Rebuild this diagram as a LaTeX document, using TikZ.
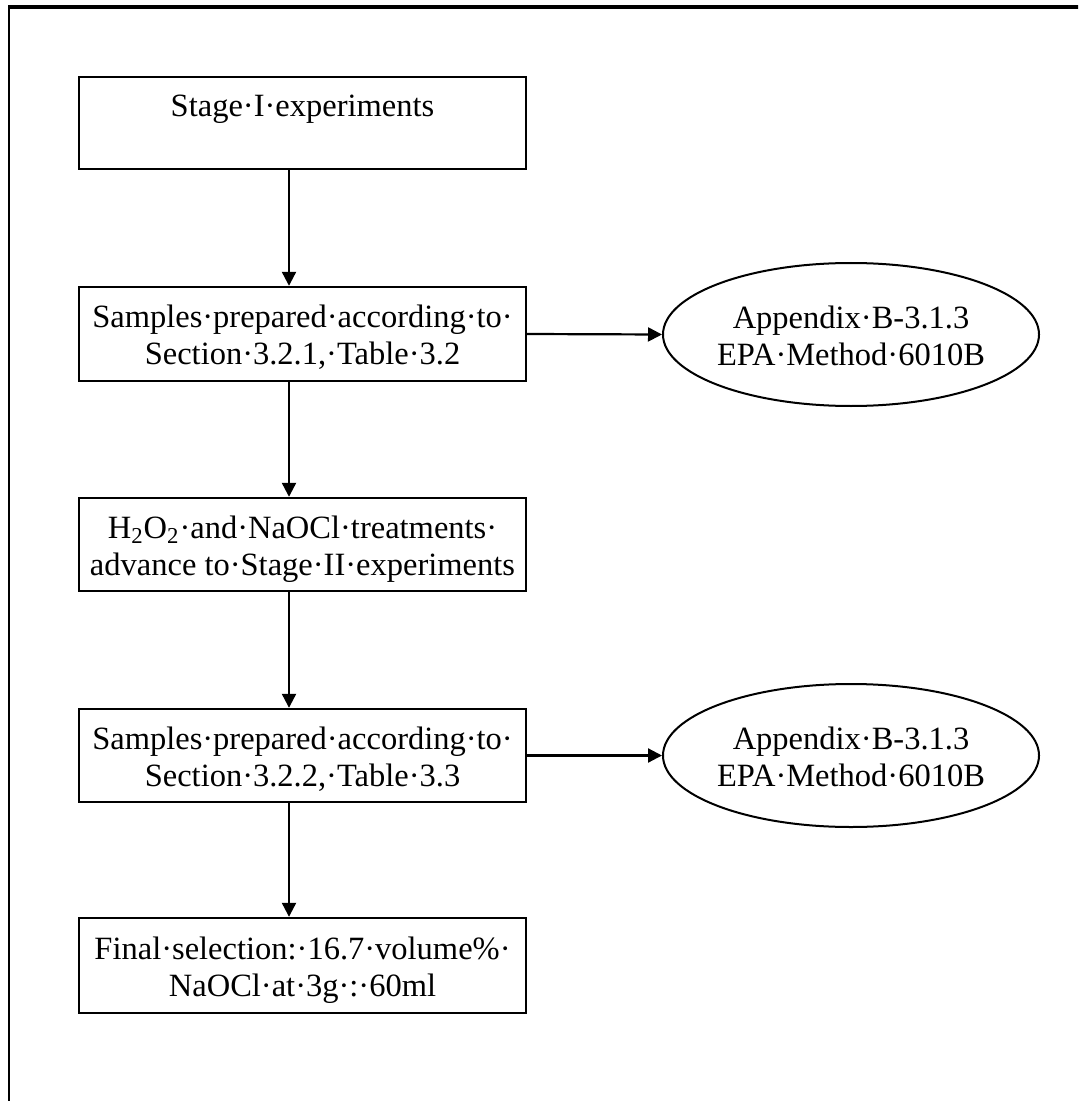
\documentclass[tikz,border=0pt]{standalone}
\usepackage{fontspec}
\setmainfont{Liberation Serif}
\usetikzlibrary{arrows.meta,shapes.geometric}

% a strut that is taller than usual, so the text block sits a little lower
\newcommand\firstline{\rule{0pt}{\dimexpr\ht\strutbox+5pt\relax}}

\tikzset{
  flowbox/.style={draw, line width=1.2pt, rectangle, inner sep=0pt,
    minimum width=223.5pt, align=center,
    font=\fontsize{16.25pt}{18.5pt}\selectfont},
  refoval/.style={draw, line width=1pt, ellipse, inner sep=0pt,
    minimum width=188pt, minimum height=71.5pt},
  ovaltext/.style={align=center, font=\fontsize{16.25pt}{18.5pt}\selectfont},
  flowarrow/.style={line width=1.1pt, -{Triangle[length=7pt,width=7pt]}},
}

\begin{document}
\begin{tikzpicture}[x=0.5pt, y=-0.5pt]
  \useasboundingbox (0,0) rectangle (1078,1101);
  \clip (0,0) rectangle (1078,1101);

  % page frame
  \draw[line width=1.2pt] (9,1130) -- (9,7);
  \draw[line width=1.6pt] (8.4,7) -- (1100,7);

  % main chain of steps
  \node[flowbox, minimum height=46pt] (s1) at (302.5,123)
    {\firstline Stage·I·experiments\\\strut};
  \node[flowbox, minimum height=47pt] (s2) at (302.5,334)
    {\firstline Samples·prepared·according·to·\\\strut Section·3.2.1,·Table·3.2};
  \node[flowbox, minimum height=46.5pt] (s3) at (302.5,544.5)
    {\firstline H\textsubscript{2}O\textsubscript{2}·and·NaOCl·treatments·\\\strut advance to·Stage·II·experiments};
  \node[flowbox, minimum height=46.5pt] (s4) at (302.5,755.5)
    {\firstline Samples·prepared·according·to·\\\strut Section·3.2.2,·Table·3.3};
  \node[flowbox, minimum height=47.5pt] (s5) at (302.5,965.5)
    {\firstline Final·selection:·16.7·volume\%·\\\strut NaOCl·at·3g·:·60ml};

  % analysis method references
  \node[refoval, label={[ovaltext]center:\firstline Appendix·B-3.1.3\\\strut EPA·Method·6010B}] (m1) at (851,334.5) {};
  \node[refoval, label={[ovaltext]center:\firstline Appendix·B-3.1.3\\\strut EPA·Method·6010B}] (m2) at (851,755.5) {};

  % vertical connector line
  \coordinate (ax) at (289,0);
  \draw[flowarrow] (s1.south -| ax) -- (s2.north -| ax);
  \draw[flowarrow] (s2.south -| ax) -- (s3.north -| ax);
  \draw[flowarrow] (s3.south -| ax) -- (s4.north -| ax);
  \draw[flowarrow] (s4.south -| ax) -- (s5.north -| ax);

  % side connectors
  \draw[flowarrow] (s2.east) -- (m1.west);
  \draw[flowarrow] (s4.east) -- (m2.west);
\end{tikzpicture}
\end{document}
